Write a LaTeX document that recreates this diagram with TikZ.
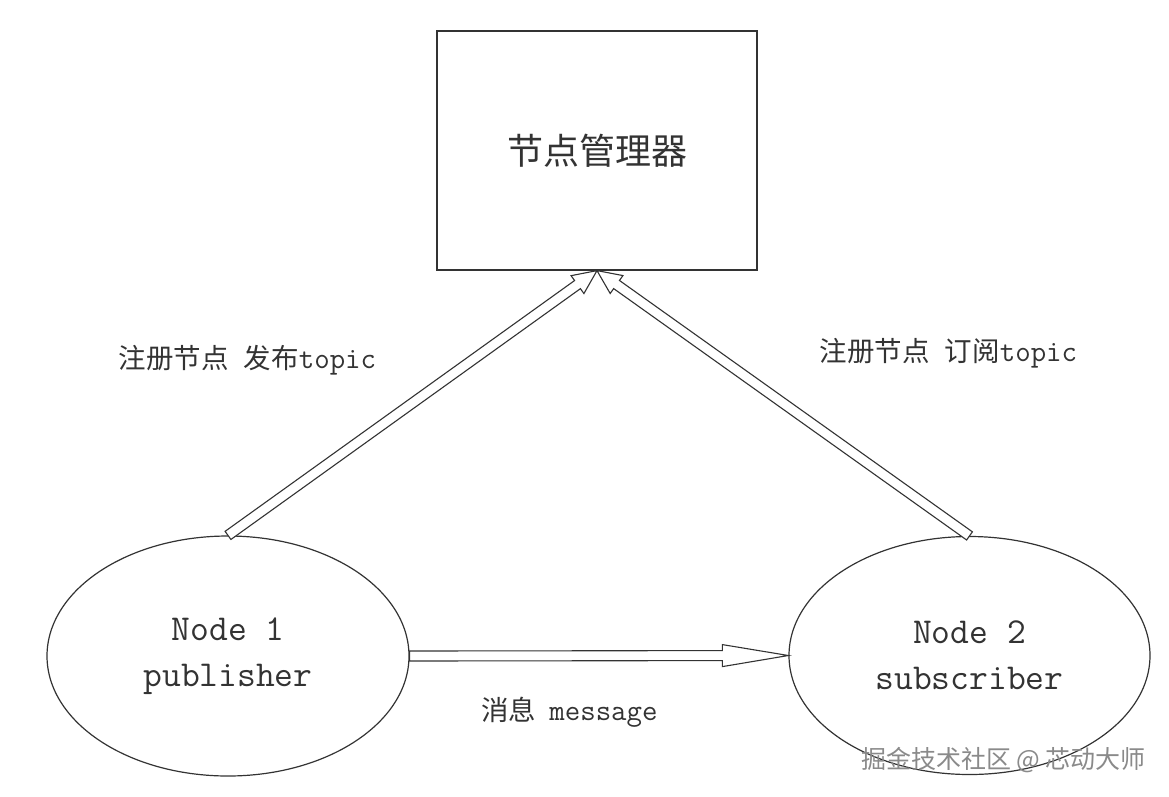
\documentclass[tikz,border=0pt]{standalone}
\usepackage{fontspec}
\newfontfamily\cjk{Noto Sans CJK SC}
\usetikzlibrary{shapes.geometric,calc}
\definecolor{ink}{HTML}{333333}
\definecolor{wm}{HTML}{8A8A8A}
\newcommand\harrow[4]{%
  \coordinate (#4h) at ($(#2)!#3!(#1)$);
  \draw[harr] ($(#1)!5pt!90:(#2)$) -- ($(#4h)!5pt!90:(#2)$) -- ($(#4h)!11pt!90:(#2)$) -- (#2)
    -- ($(#4h)!11pt!-90:(#2)$) -- ($(#4h)!5pt!-90:(#2)$) -- ($(#1)!5pt!-90:(#2)$) -- cycle;}
\newcommand\lat[1]{{\ttfamily\fontsize{30}{30}\selectfont #1}}
\begin{document}
\begin{tikzpicture}[x=1pt,y=-1pt,
  box/.style={draw=ink,line width=1.2pt,minimum width=320pt,minimum height=239pt,inner sep=0pt},
  ell/.style={draw=ink,line width=1.2pt,ellipse,minimum width=362pt,minimum height=240pt,inner sep=0pt,
    align=center,text=ink,font=\ttfamily\fontsize{36.5}{46}\selectfont},
  harr/.style={draw=ink,line width=1.1pt,fill=white,line join=miter},
  lbl/.style={text=ink,inner sep=0pt,font=\fontsize{27.5}{30}\selectfont}]
\useasboundingbox[fill=white] (0,0) rectangle (1169,796);
\node[box,text=ink,font=\cjk\fontsize{36}{40}\selectfont] (mgr) at (597,150.5) {节点管理器};
\node[ell] (n1) at (228,656) {Node 1\\publisher};
\node[ell,minimum width=361pt,minimum height=238pt] (n2) at (969.5,655.5) {Node 2\\subscriber};
\harrow{n1.north}{mgr.south}{24pt}{a}
\harrow{n2.north}{mgr.south}{24pt}{b}
\harrow{n1.east}{n2.west}{66pt}{c}
\node[lbl] (l1) at (247.5,360) {{\cjk 注册节点\hspace{15pt}发布}\lat{topic}};
\node[lbl] (l2) at (948.5,353) {{\cjk 注册节点\hspace{15pt}订阅}\lat{topic}};
\node[lbl] (l3) at (569.5,712) {{\cjk 消息}\hspace{13pt}\lat{message}};
\node[text=wm,inner sep=0pt,font=\cjk\fontsize{25}{28}\selectfont] (wm) at (1003.5,760) {掘金技术社区 @ 芯动大师};
\end{tikzpicture}
\end{document}
